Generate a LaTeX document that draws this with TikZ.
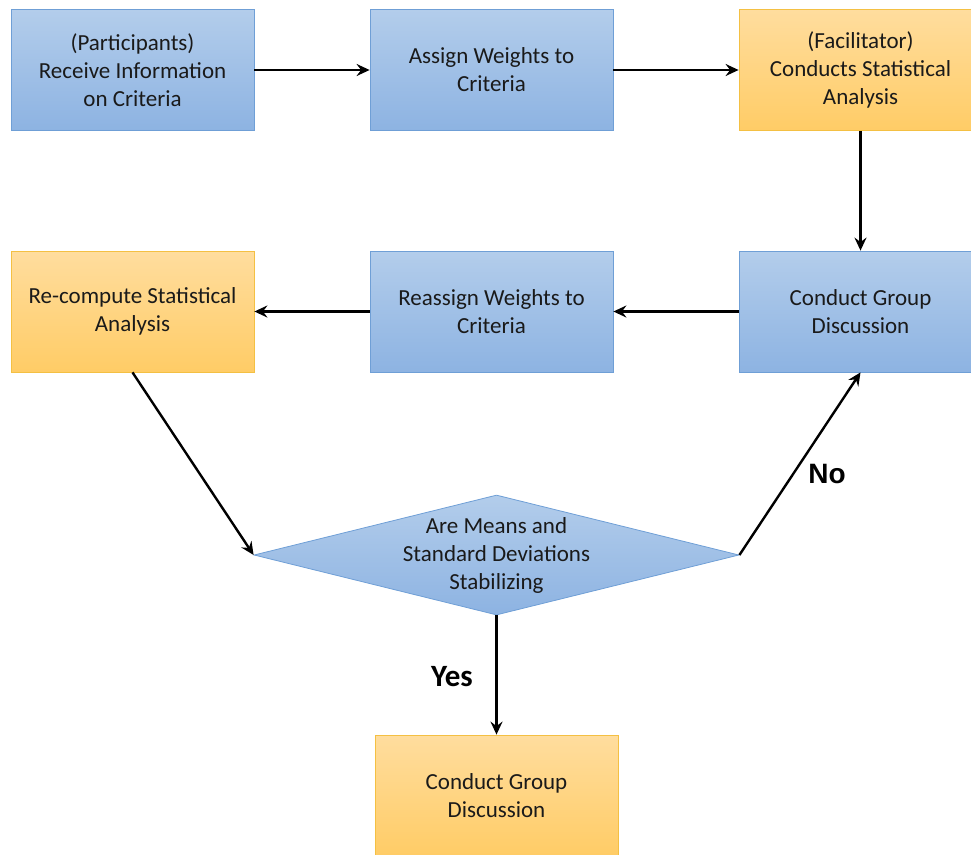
\documentclass[tikz,border=0pt]{standalone}
\usepackage{fontspec}
\setmainfont{Carlito}
\newfontfamily\labelfont{Liberation Sans}
\usetikzlibrary{arrows.meta,shapes.geometric}
\definecolor{bluetop}{HTML}{B3CDEB}
\definecolor{bluebot}{HTML}{8DB3E2}
\definecolor{blueedge}{HTML}{6F9FD6}
\definecolor{orangetop}{HTML}{FFDD9E}
\definecolor{orangebot}{HTML}{FFCC66}
\definecolor{orangeedge}{HTML}{F4C043}
\definecolor{txt}{HTML}{1A1A1A}
\tikzset{
  x=1pt, y=-1pt,
  box/.style={rectangle, minimum width=243pt, minimum height=121pt, inner sep=0pt,
    align=center, font=\fontsize{23}{28}\selectfont, text=txt, line width=0.8pt},
  bluebox/.style={box, draw=blueedge, top color=bluetop, bottom color=bluebot},
  orangebox/.style={box, draw=orangeedge, top color=orangetop, bottom color=orangebot},
  decision/.style={diamond, shape aspect=4.04, minimum width=485pt, minimum height=120pt,
    inner sep=0pt, draw=blueedge, line width=0.8pt, top color=bluetop, bottom color=bluebot},
  decisiontext/.style={inner sep=0pt, align=center, font=\fontsize{23}{28}\selectfont, text=txt},
  flow/.style={-{Stealth[length=13pt,width=12pt,inset=4.5pt]}, line width=2.4pt, black},
  nolabel/.style={font=\labelfont\bfseries\fontsize{28}{30}\selectfont, text=black},
  yeslabel/.style={font=\bfseries\fontsize{31}{33}\selectfont, text=black}
}
\begin{document}
\begin{tikzpicture}
\useasboundingbox (0,0) rectangle (971,854);
\node[bluebox] (b1) at (132.5,70) {(Participants)\\Receive Information\\on Criteria};
\node[bluebox] (b2) at (491.5,70) {Assign Weights to\\Criteria};
\node[orangebox] (b3) at (860.5,70) {(Facilitator)\\Conducts Statistical\\Analysis};
\node[orangebox] (b4) at (132.5,311.5) {Re-compute Statistical\\Analysis};
\node[bluebox] (b5) at (491.5,311.5) {Reassign Weights to\\Criteria};
\node[bluebox] (b6) at (860.5,311.5) {Conduct Group\\Discussion};
\node[decision] (d) at (496.5,555) {};
\node[decisiontext] (dt) at (d.center) {Are Means and\\Standard Deviations\\Stabilizing};
\node[orangebox] (b7) at (496.5,795.5) {Conduct Group\\Discussion};

\draw[flow] (b1) -- (b2);
\draw[flow] (b2) -- (b3);
\draw[flow] (b3) -- (b6);
\draw[flow] (b6) -- (b5);
\draw[flow] (b5) -- (b4);
\draw[flow] (b4.south) -- (d.west);
\draw[flow] (d.east) -- (b6.south);
\draw[flow] (d.south) -- (b7.north);
\node[nolabel] (no) at (827,474) {No};
\node[yeslabel] (yes) at (452,677) {Yes};
\end{tikzpicture}
\end{document}
